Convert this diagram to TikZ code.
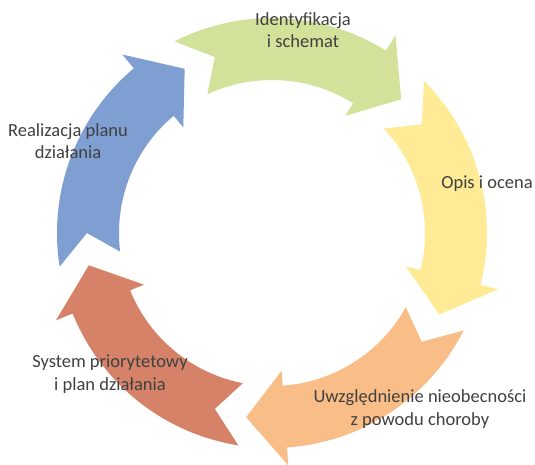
\documentclass[tikz,border=0pt]{standalone}
\usepackage{fontspec}
\setmainfont{Carlito}
\definecolor{cgreen}{RGB}{211,226,155}
\definecolor{cyellow}{RGB}{255,234,150}
\definecolor{corange}{RGB}{249,190,136}
\definecolor{cbrown}{RGB}{214,130,105}
\definecolor{cblue}{RGB}{127,159,211}
\definecolor{ctext}{RGB}{64,64,64}
\newcommand\cycarrow[2]{%
  \fill[#2] (#1:215) arc[start angle=#1, end angle={#1-59}, radius=215]
    -- ({#1-59}:233) -- ({#1-71}:186) -- ({#1-59}:138) -- ({#1-59}:153)
    arc[start angle={#1-59}, end angle={#1-2}, radius=153]
    -- ({#1-9}:185) -- cycle;}
\begin{document}
\begin{tikzpicture}[x=1pt,y=1pt,
  lbl/.style={align=center,text=ctext,inner sep=0pt,
    font=\fontsize{18.5}{22.5}\selectfont}]
\useasboundingbox (-272,233) rectangle (263,-231);
\cycarrow{117}{cgreen}
\cycarrow{45}{cyellow}
\cycarrow{-27}{corange}
\cycarrow{-99}{cbrown}
\cycarrow{189}{cblue}
\node[lbl] (t1) at (31,203) {Identyfikacja\\i schemat};
\node[lbl] (t2) at (215,49) {Opis i ocena};
\node[lbl] (t3) at (148,-176) {Uwzględnienie nieobecności\\z powodu choroby};
\node[lbl] (t4) at (-162,-141) {System priorytetowy\\i plan działania};
\node[lbl] (t5) at (-204,92) {Realizacja planu\\działania};
\end{tikzpicture}
\end{document}
